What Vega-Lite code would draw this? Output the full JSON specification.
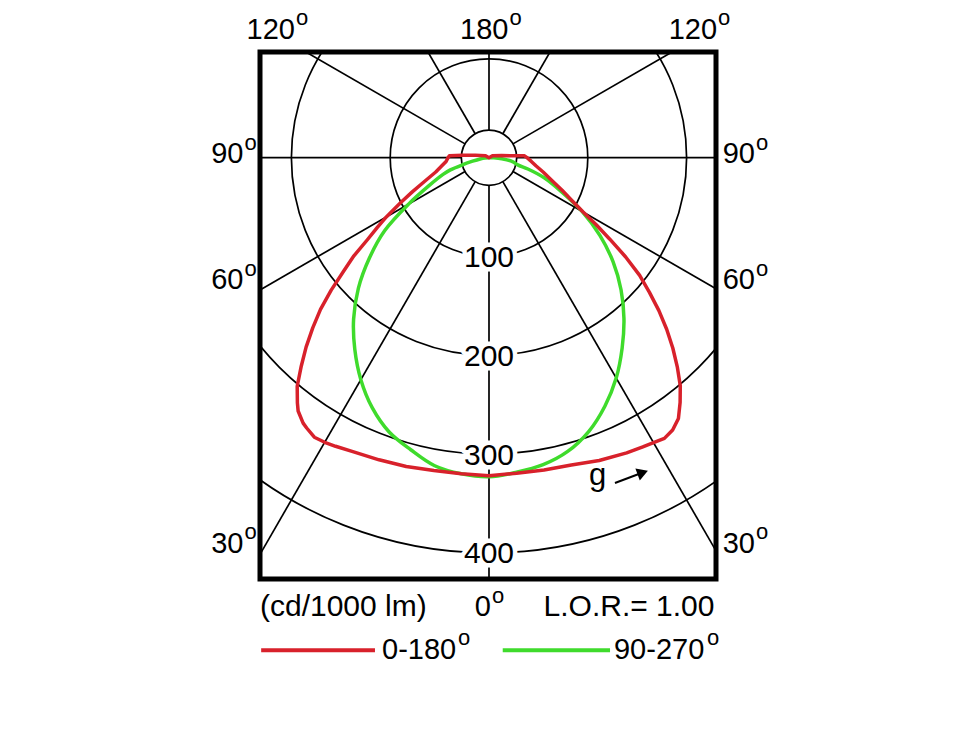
{
  "$schema": "https://vega.github.io/schema/vega-lite/v6.json",
  "width": 456,
  "height": 527,
  "padding": {"left": 260, "top": 52, "right": 264, "bottom": 156},
  "autosize": {"type": "none"},
  "background": "white",
  "config": {
    "view": {"stroke": "black", "strokeWidth": 5},
    "font": "Liberation Sans",
    "text": {"font": "Liberation Sans"}
  },
  "encoding": {
    "x": {"field": "x", "type": "quantitative", "scale": {"domain": [-231.78, 229.76], "nice": false, "zero": false}, "axis": null},
    "y": {"field": "y", "type": "quantitative", "scale": {"domain": [-106.98, 426.42], "nice": false, "zero": false, "reverse": true}, "axis": null}
  },
  "layer": [
    {
      "data": {"values": [{"r": 28, "x": 0, "y": 0}, {"r": 100, "x": 0, "y": 0}, {"r": 200, "x": 0, "y": 0}, {"r": 300, "x": 0, "y": 0}, {"r": 400, "x": 0, "y": 0}]},
      "mark": {"type": "arc", "theta": 0, "theta2": 6.2832, "fill": "transparent", "stroke": "black", "strokeWidth": 1.7, "clip": true},
      "encoding": {
        "radius": {"field": "r", "type": "quantitative", "stack": null, "scale": {"type": "linear", "domain": [0, 400], "range": [0, 395.2], "zero": true, "nice": false}}
      }
    },
    {
      "data": {"values": [{"a": -150}, {"a": -120}, {"a": -90}, {"a": -60}, {"a": -30}, {"a": 0}, {"a": 30}, {"a": 60}, {"a": 90}, {"a": 120}, {"a": 150}, {"a": 180}]},
      "transform": [
        {"calculate": "28*sin(datum.a*PI/180)", "as": "x"},
        {"calculate": "28*cos(datum.a*PI/180)", "as": "y"},
        {"calculate": "800*sin(datum.a*PI/180)", "as": "x2"},
        {"calculate": "800*cos(datum.a*PI/180)", "as": "y2"}
      ],
      "mark": {"type": "rule", "stroke": "black", "strokeWidth": 1.7, "clip": true},
      "encoding": {"x2": {"field": "x2"}, "y2": {"field": "y2"}}
    },
    {
      "data": {"values": [{"r": 100, "x": 0, "y": 100}, {"r": 200, "x": 0, "y": 200}, {"r": 300, "x": 0, "y": 300}, {"r": 400, "x": 0, "y": 400}]},
      "encoding": {
        "text": {"field": "r", "type": "quantitative"}
      },
      "layer": [
        {"mark": {"type": "text", "fontSize": 30, "font": "Liberation Sans", "align": "center", "baseline": "middle", "dy": 1.5, "fill": "white", "stroke": "white", "strokeWidth": 9, "strokeJoin": "round"}},
        {"mark": {"type": "text", "fontSize": 30, "font": "Liberation Sans", "align": "center", "baseline": "middle", "dy": 1.5, "fill": "black"}}
      ]
    },
    {
      "data": {"values": [
        {"plane": "90-270°", "a": -90, "cd": 0}, {"plane": "90-270°", "a": -86, "cd": 4}, {"plane": "90-270°", "a": -82, "cd": 9},
        {"plane": "90-270°", "a": -78, "cd": 17}, {"plane": "90-270°", "a": -75, "cd": 28}, {"plane": "90-270°", "a": -72.5, "cd": 41},
        {"plane": "90-270°", "a": -70, "cd": 49.5}, {"plane": "90-270°", "a": -65, "cd": 67}, {"plane": "90-270°", "a": -60, "cd": 94},
        {"plane": "90-270°", "a": -55, "cd": 129}, {"plane": "90-270°", "a": -50, "cd": 158}, {"plane": "90-270°", "a": -45, "cd": 187},
        {"plane": "90-270°", "a": -40, "cd": 213.2}, {"plane": "90-270°", "a": -35, "cd": 236.8}, {"plane": "90-270°", "a": -30, "cd": 259.4},
        {"plane": "90-270°", "a": -25, "cd": 279.4}, {"plane": "90-270°", "a": -20, "cd": 295.4}, {"plane": "90-270°", "a": -15, "cd": 306},
        {"plane": "90-270°", "a": -10, "cd": 316.6}, {"plane": "90-270°", "a": -5, "cd": 321.2}, {"plane": "90-270°", "a": 0, "cd": 323},
        {"plane": "90-270°", "a": 5, "cd": 319.6}, {"plane": "90-270°", "a": 10, "cd": 315.5}, {"plane": "90-270°", "a": 15, "cd": 307.8},
        {"plane": "90-270°", "a": 20, "cd": 295}, {"plane": "90-270°", "a": 25, "cd": 277.5}, {"plane": "90-270°", "a": 30, "cd": 257.5},
        {"plane": "90-270°", "a": 35, "cd": 235}, {"plane": "90-270°", "a": 40, "cd": 212.5}, {"plane": "90-270°", "a": 45, "cd": 189},
        {"plane": "90-270°", "a": 50, "cd": 164}, {"plane": "90-270°", "a": 55, "cd": 137}, {"plane": "90-270°", "a": 60, "cd": 109},
        {"plane": "90-270°", "a": 65, "cd": 80.5}, {"plane": "90-270°", "a": 70, "cd": 59.5}, {"plane": "90-270°", "a": 73.8, "cd": 41},
        {"plane": "90-270°", "a": 76, "cd": 30}, {"plane": "90-270°", "a": 80.7, "cd": 24}, {"plane": "90-270°", "a": 85, "cd": 13},
        {"plane": "90-270°", "a": 88, "cd": 5}, {"plane": "90-270°", "a": 90, "cd": 0}
      ]},
      "transform": [
        {"calculate": "datum.cd*sin(datum.a*PI/180)", "as": "x"},
        {"calculate": "datum.cd*cos(datum.a*PI/180)", "as": "y"}
      ],
      "mark": {"type": "line", "strokeWidth": 3.5, "interpolate": "catmull-rom", "strokeJoin": "round", "strokeCap": "round"},
      "encoding": {
        "color": {"field": "plane", "type": "nominal", "scale": {"domain": ["0-180°", "90-270°"], "range": ["#d8212b", "#3fdb2c"]}, "legend": null},
        "order": {"field": "a", "type": "quantitative"}
      }
    },
    {
      "data": {"values": [
        {"plane": "0-180°", "a": -180, "cd": 0}, {"plane": "0-180°", "a": -120, "cd": 4}, {"plane": "0-180°", "a": -100, "cd": 14},
        {"plane": "0-180°", "a": -95, "cd": 27}, {"plane": "0-180°", "a": -93, "cd": 40}, {"plane": "0-180°", "a": -90, "cd": 41.5},
        {"plane": "0-180°", "a": -85, "cd": 43.6}, {"plane": "0-180°", "a": -80, "cd": 48.7}, {"plane": "0-180°", "a": -75, "cd": 55.8},
        {"plane": "0-180°", "a": -70, "cd": 68.9}, {"plane": "0-180°", "a": -66, "cd": 85}, {"plane": "0-180°", "a": -63, "cd": 100.5},
        {"plane": "0-180°", "a": -60, "cd": 120}, {"plane": "0-180°", "a": -58, "cd": 133.5}, {"plane": "0-180°", "a": -56, "cd": 148.5},
        {"plane": "0-180°", "a": -54, "cd": 169}, {"plane": "0-180°", "a": -52, "cd": 187}, {"plane": "0-180°", "a": -50, "cd": 208.5},
        {"plane": "0-180°", "a": -48, "cd": 229.5}, {"plane": "0-180°", "a": -46, "cd": 248}, {"plane": "0-180°", "a": -44, "cd": 266.5},
        {"plane": "0-180°", "a": -42, "cd": 284}, {"plane": "0-180°", "a": -40, "cd": 302}, {"plane": "0-180°", "a": -38, "cd": 315},
        {"plane": "0-180°", "a": -37, "cd": 321}, {"plane": "0-180°", "a": -35, "cd": 328}, {"plane": "0-180°", "a": -34, "cd": 330},
        {"plane": "0-180°", "a": -32, "cd": 333.6}, {"plane": "0-180°", "a": -30, "cd": 332.6}, {"plane": "0-180°", "a": -28, "cd": 330.8},
        {"plane": "0-180°", "a": -25, "cd": 328}, {"plane": "0-180°", "a": -20, "cd": 325.4}, {"plane": "0-180°", "a": -15, "cd": 323.6},
        {"plane": "0-180°", "a": -10, "cd": 321.5}, {"plane": "0-180°", "a": -5, "cd": 321}, {"plane": "0-180°", "a": 0, "cd": 322},
        {"plane": "0-180°", "a": 5, "cd": 320.6}, {"plane": "0-180°", "a": 10, "cd": 321}, {"plane": "0-180°", "a": 15, "cd": 322},
        {"plane": "0-180°", "a": 20, "cd": 326.2}, {"plane": "0-180°", "a": 25, "cd": 329.7}, {"plane": "0-180°", "a": 28, "cd": 331.6},
        {"plane": "0-180°", "a": 30, "cd": 333}, {"plane": "0-180°", "a": 32, "cd": 335}, {"plane": "0-180°", "a": 34, "cd": 332.4},
        {"plane": "0-180°", "a": 36, "cd": 326.2}, {"plane": "0-180°", "a": 38, "cd": 314.2}, {"plane": "0-180°", "a": 40, "cd": 301.2},
        {"plane": "0-180°", "a": 42, "cd": 284.8}, {"plane": "0-180°", "a": 44, "cd": 267.8}, {"plane": "0-180°", "a": 46, "cd": 250},
        {"plane": "0-180°", "a": 48, "cd": 231.4}, {"plane": "0-180°", "a": 50, "cd": 212}, {"plane": "0-180°", "a": 52, "cd": 193.5},
        {"plane": "0-180°", "a": 54, "cd": 171}, {"plane": "0-180°", "a": 56, "cd": 147.5}, {"plane": "0-180°", "a": 58, "cd": 128},
        {"plane": "0-180°", "a": 60, "cd": 110}, {"plane": "0-180°", "a": 63, "cd": 93}, {"plane": "0-180°", "a": 66, "cd": 81},
        {"plane": "0-180°", "a": 70, "cd": 68}, {"plane": "0-180°", "a": 75, "cd": 57}, {"plane": "0-180°", "a": 80, "cd": 48.5},
        {"plane": "0-180°", "a": 85, "cd": 43}, {"plane": "0-180°", "a": 90, "cd": 38.5}, {"plane": "0-180°", "a": 93, "cd": 36},
        {"plane": "0-180°", "a": 95, "cd": 22}, {"plane": "0-180°", "a": 100, "cd": 13}, {"plane": "0-180°", "a": 120, "cd": 4},
        {"plane": "0-180°", "a": 180, "cd": 0}
      ]},
      "transform": [
        {"calculate": "datum.cd*sin(datum.a*PI/180)", "as": "x"},
        {"calculate": "datum.cd*cos(datum.a*PI/180)", "as": "y"}
      ],
      "mark": {"type": "line", "strokeWidth": 3.5, "interpolate": "linear", "strokeJoin": "round", "strokeCap": "round"},
      "encoding": {
        "color": {"field": "plane", "type": "nominal", "scale": {"domain": ["0-180°", "90-270°"], "range": ["#d8212b", "#3fdb2c"]}, "legend": null},
        "order": {"field": "a", "type": "quantitative"}
      }
    },
    {
      "data": {"values": [
        {"plane": "0-180°", "x": -230.6, "x2": -115.4, "y": 498.5},
        {"plane": "90-270°", "x": 13.9, "x2": 122.5, "y": 498.5}
      ]},
      "mark": {"type": "rule", "strokeWidth": 4},
      "encoding": {
        "x2": {"field": "x2"},
        "color": {"field": "plane", "type": "nominal", "scale": {"domain": ["0-180°", "90-270°"], "range": ["#d8212b", "#3fdb2c"]}, "legend": null}
      }
    },
    {
      "data": {"values": [
        {"t": "120", "x": -196.4, "y": -120.2}, {"t": "180", "x": 19.7, "y": -120.2}, {"t": "120", "x": 230.8, "y": -120.2},
        {"t": "90", "x": -248.5, "y": 5.7}, {"t": "60", "x": -248.5, "y": 133.2}, {"t": "30", "x": -248.5, "y": 399.8},
        {"t": "90", "x": 269.2, "y": 5.7}, {"t": "60", "x": 269.2, "y": 133.2}, {"t": "30", "x": 269.2, "y": 399.8},
        {"t": "0", "x": 2.0, "y": 464.0}
      ]},
      "layer": [
        {"mark": {"type": "text", "fontSize": 29, "align": "right", "baseline": "alphabetic", "dx": 0, "color": "black"}, "encoding": {"text": {"field": "t"}}},
        {"mark": {"type": "text", "fontSize": 22, "align": "left", "baseline": "alphabetic", "dx": 1, "dy": -13.5, "color": "black"}, "encoding": {"text": {"value": "o"}}}
      ]
    },
    {
      "data": {"values": [{"x": -31.4, "y": 506.9}, {"x": 220.6, "y": 506.9}]},
      "mark": {"type": "text", "fontSize": 22, "align": "left", "baseline": "alphabetic", "dy": -13.5, "color": "black"},
      "encoding": {"text": {"value": "o"}}
    },
    {
      "data": {"values": [
        {"t": "(cd/1000 lm)", "x": -231.8, "y": 464.0}
      ]},
      "mark": {"type": "text", "fontSize": 30, "align": "left", "baseline": "alphabetic", "color": "black"},
      "encoding": {"text": {"field": "t"}}
    },
    {
      "data": {"values": [
        {"t": "0-180", "x": -108.3, "y": 506.9},
        {"t": "90-270", "x": 126.5, "y": 506.9}
      ]},
      "mark": {"type": "text", "fontSize": 29, "align": "left", "baseline": "alphabetic", "color": "black"},
      "encoding": {"text": {"field": "t"}}
    },
    {
      "data": {"values": [{"t": "L.O.R.= 1.00", "x": 228.2, "y": 464.0}]},
      "mark": {"type": "text", "fontSize": 30, "align": "right", "baseline": "alphabetic", "color": "black"},
      "encoding": {"text": {"field": "t"}}
    },
    {
      "data": {"values": [{"t": "g", "x": 101.2, "y": 330.8}]},
      "mark": {"type": "text", "fontSize": 31, "align": "left", "baseline": "alphabetic", "color": "black"},
      "encoding": {"text": {"field": "t"}}
    },
    {
      "data": {"values": [{"x": 127.5, "y": 329.3, "x2": 154.3, "y2": 319.1}]},
      "mark": {"type": "rule", "stroke": "black", "strokeWidth": 2},
      "encoding": {"x2": {"field": "x2"}, "y2": {"field": "y2"}}
    },
    {
      "data": {"values": [{"x": 155.6, "y": 318.7}]},
      "mark": {"type": "point", "shape": "triangle-right", "angle": -20.4, "size": 160, "filled": true, "color": "black", "opacity": 1},
      "encoding": {}
    }
  ]
}
